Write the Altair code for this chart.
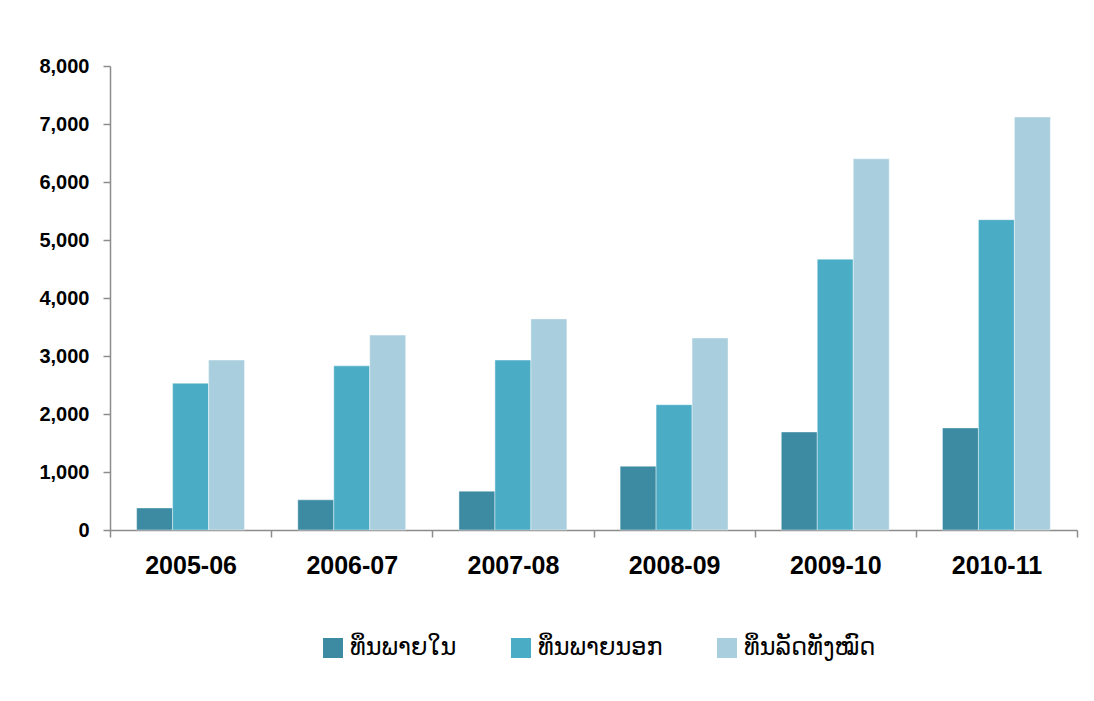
import altair as alt
import pandas as pd

years = ["2005-06", "2006-07", "2007-08", "2008-09", "2009-10", "2010-11"]
series = ["ທຶນພາຍໃນ", "ທຶນພາຍນອກ", "ທຶນລັດທັງໝົດ"]
domestic = [380, 520, 670, 1100, 1690, 1760]
foreign = [2530, 2830, 2930, 2160, 4670, 5350]
total = [2930, 3360, 3640, 3310, 6400, 7120]
colors = ["#3C8BA3", "#4BACC6", "#A9CFDE"]

rows = []
for s, vals in zip(series, [domestic, foreign, total]):
    for y, v in zip(years, vals):
        rows.append({"year": y, "series": s, "value": v})
df = pd.DataFrame(rows)

chart = alt.Chart(df).mark_bar(stroke="#ffffff", strokeWidth=0.6, strokeOpacity=0.7).encode(
    x=alt.X("year:N", sort=years, title=None,
            scale=alt.Scale(paddingInner=0, paddingOuter=0),
            axis=alt.Axis(labelAngle=0, tickBand="extent", labelFont="Liberation Sans",
                          labelFontSize=25, labelFontWeight="bold", labelColor="#000000",
                          labelPadding=16, tickSize=7, tickColor="#8c8c8c", domainColor="#8c8c8c",
                          domainWidth=1.5, tickWidth=1.5)),
    xOffset=alt.XOffset("series:N", sort=series,
                        scale=alt.Scale(paddingInner=0, paddingOuter=0.74)),
    y=alt.Y("value:Q", title=None,
            scale=alt.Scale(domain=[0, 8000], nice=False),
            axis=alt.Axis(values=[0, 1000, 2000, 3000, 4000, 5000, 6000, 7000, 8000], format=",.0f",
                          grid=False, labelFont="Liberation Sans", labelFontSize=20,
                          labelFontWeight="bold", labelColor="#000000", labelPadding=14,
                          tickSize=7, tickColor="#8c8c8c", domainColor="#8c8c8c",
                          domainWidth=1.5, tickWidth=1.5)),
    color=alt.Color("series:N", sort=series,
                    scale=alt.Scale(domain=series, range=colors),
                    legend=alt.Legend(title=None, orient="none", direction="horizontal",
                                      legendX=211, legendY=570,
                                      symbolType="square", symbolSize=400, symbolStrokeWidth=0,
                                      labelFontSize=24, labelFont="DejaVu Sans", labelColor="#000000",
                                      columnPadding=52, labelOffset=5)),
).properties(
    width=967, height=464,
    background="#ffffff",
    padding={"left": 102, "top": 58, "right": 9, "bottom": 163},
    autosize=alt.AutoSizeParams(type="none"),
).configure_view(stroke="transparent", strokeWidth=0)

chart.save("out.html", embed_options={"renderer": "svg", "actions": False})
